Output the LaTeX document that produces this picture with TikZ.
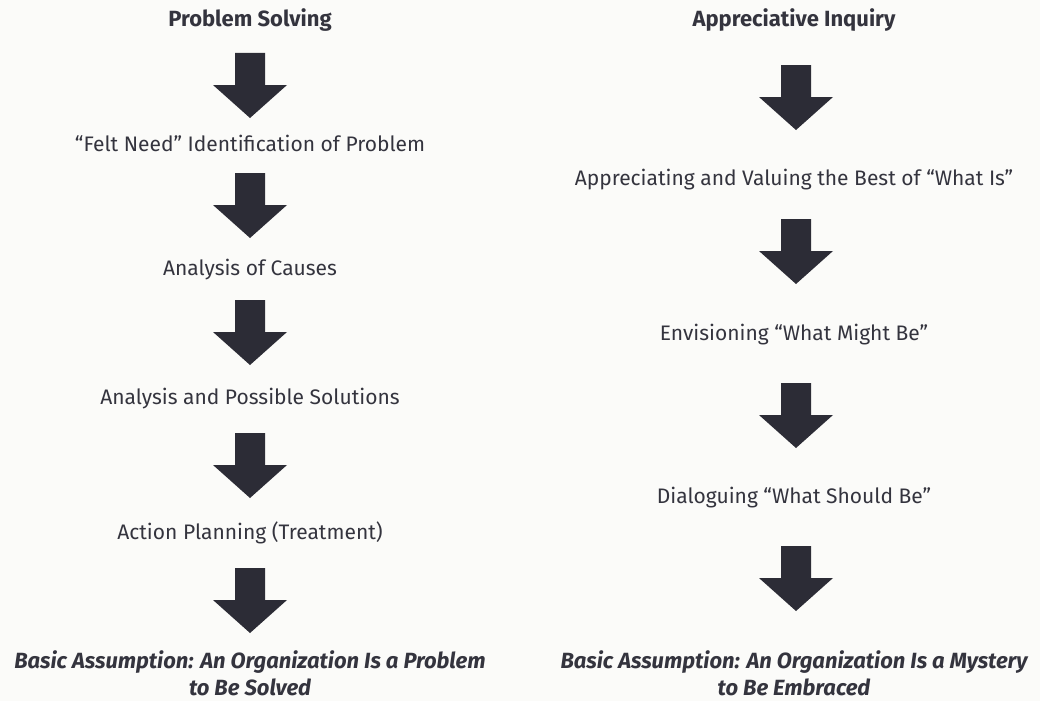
\documentclass[tikz,border=0pt]{standalone}
\usepackage{fontspec}
\setmainfont{Fira Sans}
\begin{document}
\begin{tikzpicture}[x=1pt,y=-1pt,
  steplabel/.style={text=inkgray, anchor=base, font=\fontsize{21}{25}\selectfont},
  headlabel/.style={text=inkgray, anchor=base, font=\fontsize{22}{26}\selectfont\bfseries},
  basislabel/.style={text=inkgray, anchor=base, align=center,
    font=\fontsize{22}{27}\selectfont\bfseries\itshape},
  blockarrow/.pic={
    \fill[arrowink] (-15,0) -- (15,0) -- (15,32) -- (37,32) -- (0,65)
      -- (-37,32) -- (-15,32) -- cycle;
  }]
\definecolor{inkgray}{HTML}{34343E}
\definecolor{arrowink}{HTML}{2C2C36}
\definecolor{paper}{HTML}{FBFBF9}
\fill[paper] (0,0) rectangle (1040,701);
\useasboundingbox (0,0) rectangle (1040,701);

% ---------- Problem Solving column ----------
\node[headlabel] (ps) at (250,27) {Problem Solving};
\coordinate (psa1) at (250,53);
\pic at (psa1) {blockarrow};
\node[steplabel] (ps1) at (250,151) {“Felt Need” Identification of Problem};
\coordinate (psa2) at (250,173);
\pic at (psa2) {blockarrow};
\node[steplabel] (ps2) at (250,275) {Analysis of Causes};
\coordinate (psa3) at (250,300);
\pic at (psa3) {blockarrow};
\node[steplabel] (ps3) at (250,404) {Analysis and Possible Solutions};
\coordinate (psa4) at (250,433);
\pic at (psa4) {blockarrow};
\node[steplabel] (ps4) at (250,539) {Action Planning (Treatment)};
\coordinate (psa5) at (250,568);
\pic at (psa5) {blockarrow};
\node[basislabel] (psb) at (250,695)
  {Basic Assumption: An Organization Is a Problem\\to Be Solved};

% ---------- Appreciative Inquiry column ----------
\node[headlabel] (ai) at (794,27) {Appreciative Inquiry};
\coordinate (aia1) at (796,65);
\pic at (aia1) {blockarrow};
\node[steplabel] (ai1) at (794,185) {Appreciating and Valuing the Best of “What Is”};
\coordinate (aia2) at (796,219);
\pic at (aia2) {blockarrow};
\node[steplabel] (ai2) at (794,340) {Envisioning “What Might Be”};
\coordinate (aia3) at (796,383);
\pic at (aia3) {blockarrow};
\node[steplabel] (ai3) at (794,503) {Dialoguing “What Should Be”};
\coordinate (aia4) at (796,546);
\pic at (aia4) {blockarrow};
\node[basislabel] (aib) at (794,695)
  {Basic Assumption: An Organization Is a Mystery\\to Be Embraced};
\end{tikzpicture}
\end{document}
